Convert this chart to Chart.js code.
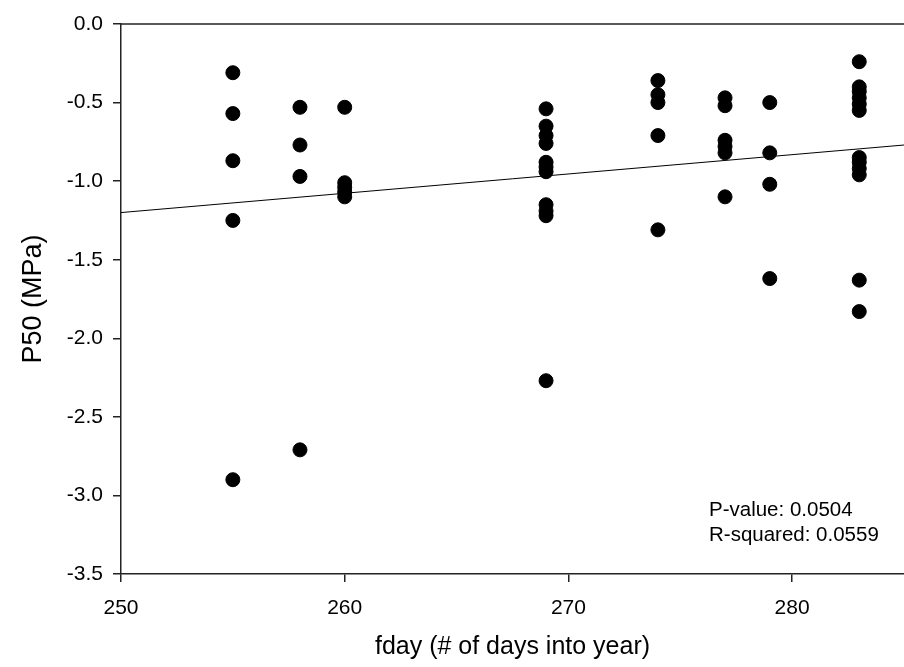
<!DOCTYPE html>
<html>
<head>
<meta charset="utf-8">
<title>P50 vs fday</title>
<script src="https://cdn.jsdelivr.net/npm/chart.js@4.4.1/dist/chart.umd.min.js"></script>
<style>
  body { margin: 0; background: #fff; }
  #wrap { width: 904px; height: 667px; }
</style>
</head>
<body>
<div id="wrap"><canvas id="p50Chart" width="904" height="667"></canvas></div>
<script>
    // measured P50 per sampling day
    const fday = [
        255, 255, 255, 255, 255,
        258, 258, 258, 258,
        260, 260, 260, 260, 260,
        269, 269, 269, 269, 269, 269, 269, 269, 269, 269, 269,
        274, 274, 274, 274, 274,
        277, 277, 277, 277, 277, 277,
        279, 279, 279, 279,
        283, 283, 283, 283, 283, 283, 283, 283, 283, 283, 283, 283
    ];
    const p50 = [
        -0.31, -0.57, -0.87, -1.25, -2.90,
        -0.53, -0.77, -0.97, -2.71,
        -0.53, -1.01, -1.04, -1.07, -1.10,
        -0.54, -0.65, -0.71, -0.76, -0.88, -0.91, -0.94, -1.15, -1.19, -1.22, -2.27,
        -0.36, -0.45, -0.50, -0.71, -1.31,
        -0.47, -0.52, -0.74, -0.78, -0.82, -1.10,
        -0.50, -0.82, -1.02, -1.62,
        -0.24, -0.40, -0.43, -0.47, -0.51, -0.55, -0.85, -0.88, -0.92, -0.96, -1.63, -1.83
    ];

    // linear fit end points
    const fitX = [250, 285];
    const fitY = [-1.20, -0.77];

    const xTicks = [250, 260, 270, 280];
    const yTicks = [0.0, -0.5, -1.0, -1.5, -2.0, -2.5, -3.0, -3.5];
    const statsText = ['P-value: 0.0504', 'R-squared: 0.0559'];

    const FONT = "'Liberation Sans', Arial, sans-serif";
    const AXIS_COLOR = '#222';

    // top frame line + regression stats text
    const framePlugin = {
        id: 'frameAndStats',
        afterDraw(chart) {
            const { ctx, chartArea } = chart;
            ctx.save();
            ctx.strokeStyle = AXIS_COLOR;
            ctx.lineWidth = 1.5;
            ctx.beginPath();
            ctx.moveTo(chartArea.left, chartArea.top);
            ctx.lineTo(chartArea.right, chartArea.top);
            ctx.stroke();

            ctx.fillStyle = '#000';
            ctx.font = '20.5px ' + FONT;
            ctx.textAlign = 'left';
            ctx.textBaseline = 'middle';
            ctx.fillText(statsText[0], 709, 510);
            ctx.fillText(statsText[1], 709, 535);
            ctx.restore();
        }
    };

    const points = fday.map((d, i) => ({ x: d, y: p50[i] }));
    const fitLine = fitX.map((d, i) => ({ x: d, y: fitY[i] }));

    new Chart(document.getElementById('p50Chart'), {
        type: 'scatter',
        data: {
            datasets: [
                {
                    label: 'P50',
                    data: points,
                    backgroundColor: '#000',
                    borderColor: '#000',
                    pointRadius: 7,
                    pointHoverRadius: 7
                },
                {
                    label: 'fit',
                    type: 'line',
                    data: fitLine,
                    borderColor: '#000',
                    borderWidth: 1,
                    pointRadius: 0,
                    fill: false,
                    tension: 0
                }
            ]
        },
        options: {
            responsive: false,
            animation: false,
            events: [],
            layout: { autoPadding: false, padding: { top: 24, right: 0, bottom: 0, left: 0 } },
            plugins: {
                legend: { display: false },
                tooltip: { enabled: false }
            },
            scales: {
                x: {
                    type: 'linear',
                    min: 250,
                    max: 285,
                    afterBuildTicks: (scale) => { scale.ticks = xTicks.map(v => ({ value: v })); },
                    afterFit: (scale) => { scale.height = 93; },
                    grid: { drawOnChartArea: false, drawTicks: true, tickLength: 8, color: AXIS_COLOR, lineWidth: 1.5 },
                    border: { display: true, color: AXIS_COLOR, width: 1.5 },
                    ticks: { color: '#000', font: { family: FONT, size: 21 }, padding: 14, maxRotation: 0 },
                    title: {
                        display: true,
                        text: 'fday (# of days into year)',
                        color: '#000',
                        font: { family: FONT, size: 25 },
                        padding: { top: 0, bottom: 5 }
                    }
                },
                y: {
                    type: 'linear',
                    min: -3.5,
                    max: 0,
                    afterBuildTicks: (scale) => { scale.ticks = yTicks.map(v => ({ value: v })); },
                    afterFit: (scale) => { scale.width = 121; },
                    grid: { drawOnChartArea: false, drawTicks: true, tickLength: 8, color: AXIS_COLOR, lineWidth: 1.5 },
                    border: { display: true, color: AXIS_COLOR, width: 1.5 },
                    ticks: {
                        color: '#000',
                        font: { family: FONT, size: 21 },
                        padding: 10,
                        callback: (v) => Number(v).toFixed(1)
                    },
                    title: {
                        display: true,
                        text: 'P50 (MPa)',
                        color: '#000',
                        font: { family: FONT, size: 27 },
                        padding: { top: 17, bottom: 0 }
                    }
                }
            }
        },
        plugins: [framePlugin]
    });
</script>
</body>
</html>
